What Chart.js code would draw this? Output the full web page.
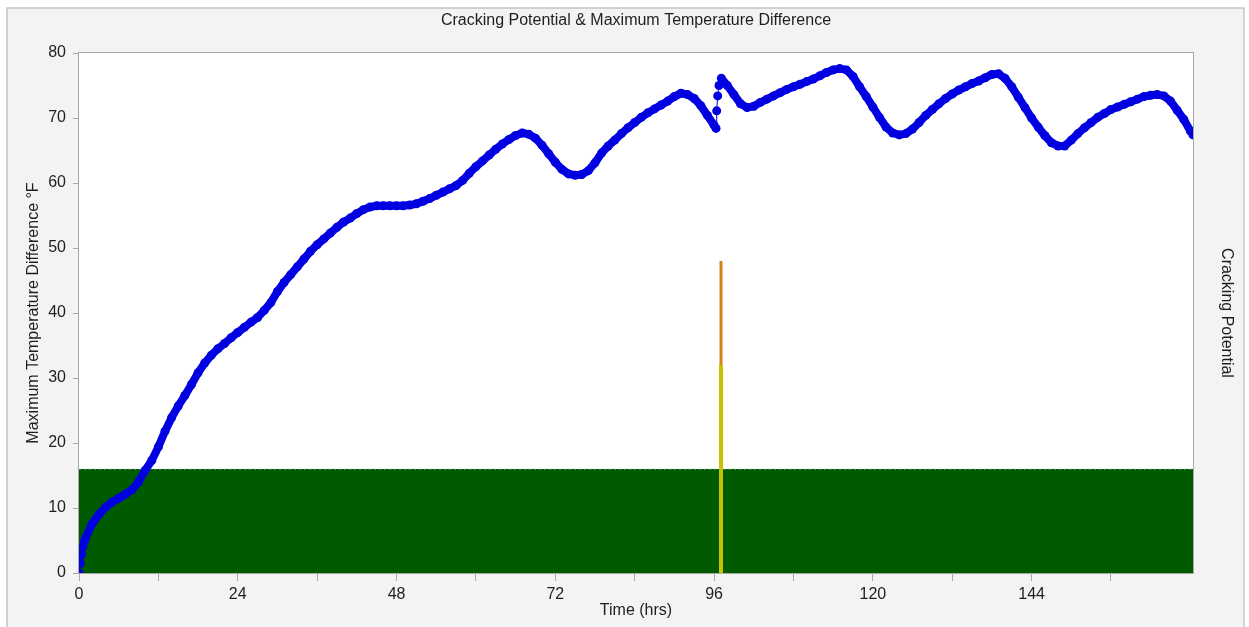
<!DOCTYPE html>
<html>
<head>
<meta charset="utf-8">
<script src="https://cdn.jsdelivr.net/npm/chart.js@4.4.1/dist/chart.umd.min.js"></script>
<style>
  html, body { margin: 0; padding: 0; background: #fff; }
  #wrap { position: relative; width: 1249px; height: 627px; }
</style>
</head>
<body>
<div id="wrap"><canvas id="chart" width="1249" height="627"></canvas></div>
<script>
// Time axis (hrs) and max temperature difference (°F)
const timeHrs = [
  0, 0.2, 0.4, 0.6, 0.8, 1, 2, 3, 4, 5, 6, 7, 8, 9, 10,
  11, 12, 13, 14, 15, 16, 17, 18, 19, 20, 21, 22, 23, 24, 25,
  26, 27, 28, 29, 30, 31, 32, 33, 34, 35, 36, 37, 38, 39, 40,
  41, 42, 43, 44, 45, 46, 47, 48, 49, 50, 51, 52, 53, 54, 55,
  56, 57, 58, 59, 60, 61, 62, 63, 64, 65, 66, 67, 68, 69, 70,
  71, 72, 73, 74, 75, 76, 77, 78, 79, 80, 81, 82, 83, 84, 85,
  86, 87, 88, 89, 90, 91, 92, 93, 94, 95, 96, 96.3, 96.4, 96.55, 96.75,
  97.1, 98, 99, 100, 101, 102, 103, 104, 105, 106, 107, 108, 109, 110, 111,
  112, 113, 114, 115, 116, 117, 118, 119, 120, 121, 122, 123, 124, 125, 126,
  127, 128, 129, 130, 131, 132, 133, 134, 135, 136, 137, 138, 139, 140, 141,
  142, 143, 144, 145, 146, 147, 148, 149, 150, 151, 152, 153, 154, 155, 156,
  157, 158, 159, 160, 161, 162, 163, 164, 165, 166, 167, 168, 168.4
];
const maxTempDiff = [
  0, 1.5, 2.8, 4.0, 4.8, 5.4, 7.6, 9.0, 10.1, 10.9, 11.5, 12.1, 12.8, 14.0, 15.8,
  17.3, 19.4, 21.8, 23.9, 25.7, 27.3, 29.0, 30.8, 32.3, 33.5, 34.5, 35.3, 36.2, 37.0, 37.8,
  38.6, 39.3, 40.4, 41.6, 43.3, 44.7, 45.9, 47.1, 48.3, 49.5, 50.5, 51.4, 52.3, 53.2, 54.0,
  54.6, 55.3, 55.9, 56.3, 56.5, 56.5, 56.5, 56.5, 56.5, 56.6, 56.8, 57.2, 57.6, 58.1, 58.6,
  59.1, 59.6, 60.4, 61.5, 62.5, 63.4, 64.3, 65.2, 66.0, 66.7, 67.3, 67.7, 67.5, 66.9, 65.8,
  64.5, 63.2, 62.1, 61.4, 61.2, 61.3, 61.9, 63.1, 64.6, 65.7, 66.6, 67.6, 68.5, 69.3, 70.1,
  70.8, 71.4, 72.0, 72.6, 73.3, 73.8, 73.6, 73.0, 71.9, 70.4, 68.9, 68.4, 71.1, 73.4, 75.0,
  76.1, 75.0, 73.6, 72.2, 71.6, 71.8, 72.4, 72.9, 73.4, 73.9, 74.4, 74.8, 75.2, 75.6, 76.0,
  76.5, 77.0, 77.4, 77.6, 77.4, 76.4, 74.8, 73.3, 71.7, 70.1, 68.6, 67.7, 67.4, 67.6, 68.3,
  69.3, 70.4, 71.3, 72.2, 73.0, 73.7, 74.3, 74.8, 75.3, 75.7, 76.2, 76.7, 76.8, 76.1, 74.8,
  73.2, 71.6, 70.0, 68.6, 67.3, 66.2, 65.7, 65.7, 66.6, 67.6, 68.5, 69.3, 70.1, 70.7, 71.3,
  71.7, 72.1, 72.5, 72.9, 73.3, 73.5, 73.6, 73.4, 72.6, 71.2, 69.8, 68.0, 67.4
];

// Cracking potential band and spike
const safeBandTop = 16;
const crackTime = 97.05;
const crackHigh = 48;
const crackLow = 32;

const xMax = 168.4;
const yTicks = [0, 10, 20, 30, 40, 50, 60, 70, 80];

const FONT = 'Liberation Sans, Arial, sans-serif';
const TEXT = '#1e1e1e';
const AXIS = '#a8a8a8';

const framePlugin = {
  id: 'frame',
  beforeDraw(chart) {
    const { ctx, chartArea: a } = chart;
    ctx.save();
    ctx.fillStyle = '#ffffff';
    ctx.fillRect(0, 0, chart.width, chart.height);
    ctx.fillStyle = '#f3f3f3';
    ctx.fillRect(7, 8, 1237, 640);
    ctx.strokeStyle = '#c4c4c4';
    ctx.lineWidth = 1.5;
    ctx.strokeRect(7, 8, 1237, 640);
    ctx.fillStyle = '#ffffff';
    ctx.fillRect(a.left, a.top, a.right - a.left, a.bottom - a.top);
    ctx.restore();
  },
  afterDraw(chart) {
    const { ctx, chartArea: a } = chart;
    ctx.save();
    ctx.strokeStyle = AXIS;
    ctx.lineWidth = 1;
    ctx.strokeRect(a.left - 0.5, a.top - 0.5, a.right - a.left + 1, a.bottom - a.top + 1);
    ctx.fillStyle = TEXT;
    ctx.font = '16px ' + FONT;
    ctx.textAlign = 'center';
    ctx.textBaseline = 'middle';
    ctx.fillText('Cracking Potential & Maximum Temperature Difference', (a.left + a.right) / 2, 21);
    ctx.restore();
  }
};

const tempPoints = timeHrs.map((t, i) => ({ x: t, y: maxTempDiff[i] }));

new Chart(document.getElementById('chart'), {
  type: 'line',
  data: {
    datasets: [
      {
        label: 'band',
        data: [{ x: 0, y: safeBandTop }, { x: xMax, y: safeBandTop }],
        fill: 'origin',
        backgroundColor: '#005a00',
        borderColor: 'rgba(170,200,170,0.8)',
        borderDash: [2, 3],
        borderWidth: 1,
        pointRadius: 0,
        order: 4
      },
      {
        label: 'crack high',
        data: [{ x: crackTime, y: 0 }, { x: crackTime, y: crackHigh }],
        borderColor: '#d08312',
        borderWidth: 3,
        pointRadius: 0,
        order: 3
      },
      {
        label: 'crack low',
        data: [{ x: crackTime, y: 0 }, { x: crackTime, y: crackLow }],
        borderColor: '#c8c000',
        borderWidth: 4,
        pointRadius: 0,
        order: 2
      },
      {
        label: 'Max temp diff',
        data: tempPoints,
        borderColor: '#0000e0',
        backgroundColor: '#0000e0',
        borderWidth: 1,
        segment: {
          borderWidth: ctx => (ctx.p1.parsed.x - ctx.p0.parsed.x) < 0.5 ? 1 : 8
        },
        pointRadius: 4.5,
        pointBorderWidth: 0,
        tension: 0,
        order: 1
      }
    ]
  },
  options: {
    responsive: false,
    devicePixelRatio: 1,
    animation: false,
    layout: { padding: { left: 7, right: 5, top: 53, bottom: 0 } },
    plugins: {
      legend: { display: false },
      tooltip: { enabled: false },
      title: { display: false }
    },
    scales: {
      x: {
        type: 'linear',
        min: 0,
        max: xMax,
        afterBuildTicks: s => { s.ticks = s.ticks.filter(t => t.value <= 156); },
        afterFit: s => { s.height = 54; },
        ticks: {
          stepSize: 12,
          autoSkip: false,
          includeBounds: false,
          maxRotation: 0,
          padding: 4,
          color: TEXT,
          font: { family: FONT, size: 16 },
          callback: v => (v % 24 === 0 ? v : '')
        },
        grid: { drawOnChartArea: false, tickLength: 8, color: AXIS },
        border: { display: false },
        title: {
          display: true,
          text: 'Time (hrs)',
          color: TEXT,
          font: { family: FONT, size: 16 },
          padding: { top: 0, bottom: 7 }
        }
      },
      y: {
        position: 'left',
        min: 0,
        max: 80,
        afterBuildTicks: s => { s.ticks = yTicks.map(v => ({ value: v })); },
        afterFit: s => { s.width = 72; },
        ticks: {
          padding: 7,
          color: TEXT,
          font: { family: FONT, size: 16 }
        },
        grid: { drawOnChartArea: false, tickLength: 6, color: AXIS },
        border: { display: false },
        title: {
          display: true,
          text: 'Maximum Temperature Difference °F',
          color: TEXT,
          font: { family: FONT, size: 16 },
          padding: { top: 17 }
        }
      },
      y2: {
        position: 'right',
        min: 0,
        max: 1,
        afterFit: s => { s.width = 51; },
        ticks: { display: false },
        grid: { display: false },
        border: { display: false },
        title: {
          display: true,
          text: 'Cracking Potential',
          color: TEXT,
          font: { family: FONT, size: 16 },
          padding: { top: 8 }
        }
      }
    }
  },
  plugins: [framePlugin]
});
</script>
</body>
</html>
